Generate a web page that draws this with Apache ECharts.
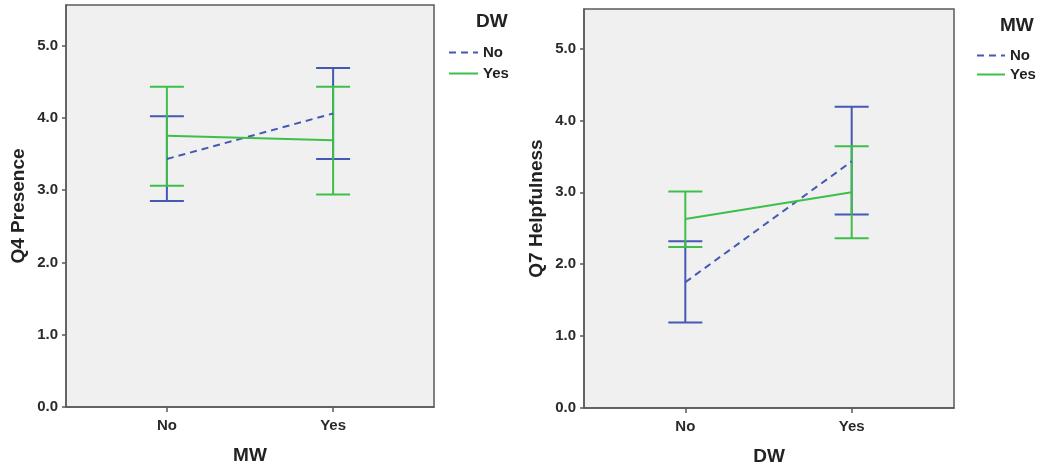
<!DOCTYPE html>
<html>
<head>
<meta charset="utf-8">
<script src="https://cdn.jsdelivr.net/npm/echarts@6/dist/echarts.min.js"></script>
<style>
html,body{margin:0;padding:0;background:#fff;}
#chart{width:1040px;height:467px;}
</style>
</head>
<body>
<div id="chart"></div>
<script>
// ---- data ----
var categories = ['No', 'Yes'];
var yTicks = [0, 1, 2, 3, 4, 5];

// Left panel: Q4 Presence by MW, lines = DW
var leftNoMean  = [3.43, 4.06];
var leftNoLow   = [2.85, 3.43];
var leftNoHigh  = [4.02, 4.69];
var leftYesMean = [3.75, 3.69];
var leftYesLow  = [3.06, 2.94];
var leftYesHigh = [4.43, 4.43];

// Right panel: Q7 Helpfulness by DW, lines = MW
var rightNoMean  = [1.75, 3.43];
var rightNoLow   = [1.19, 2.69];
var rightNoHigh  = [2.32, 4.19];
var rightYesMean = [2.63, 3.00];
var rightYesLow  = [2.24, 2.36];
var rightYesHigh = [3.01, 3.64];

var BLUE = '#4459b3';
var GREEN = '#3dbf4a';
var FONT = '"Liberation Sans", Arial, sans-serif';

function lineData(mean){ return mean.map(function(v,i){ return [i, v]; }); }
function barData(low, high){ return low.map(function(v,i){ return [i, v, high[i]]; }); }

function errorSeries(idx, low, high, color, z){
  return {
    type: 'custom', xAxisIndex: idx, yAxisIndex: idx, z: z, silent: true,
    data: barData(low, high),
    renderItem: function(params, api){
      var x = api.value(0);
      var lo = api.coord([x, api.value(1)]);
      var hi = api.coord([x, api.value(2)]);
      var w = 17;
      var st = {stroke: color, lineWidth: 2};
      return {type: 'group', children: [
        {type: 'line', shape: {x1: lo[0], y1: lo[1], x2: hi[0], y2: hi[1]}, style: st},
        {type: 'line', shape: {x1: lo[0]-w, y1: lo[1], x2: lo[0]+w, y2: lo[1]}, style: st},
        {type: 'line', shape: {x1: hi[0]-w, y1: hi[1], x2: hi[0]+w, y2: hi[1]}, style: st}
      ]};
    }
  };
}
function meanSeries(idx, name, mean, color, dashed, z){
  return {
    type: 'line', name: name, xAxisIndex: idx, yAxisIndex: idx, z: z,
    data: lineData(mean), symbol: 'none', silent: true, animation: false,
    lineStyle: {color: color, width: 2, type: dashed ? [7, 5] : 'solid'},
    itemStyle: {color: color}
  };
}

function xAxis(idx, min, max, title){
  return {
    type: 'value', gridIndex: idx, min: min, max: max,
    name: title, nameLocation: 'middle', nameGap: 39,
    nameTextStyle: {fontFamily: FONT, fontWeight: 'bold', fontSize: 19, color: '#222'},
    axisLine: {show: true, onZero: false, lineStyle: {color: '#5a5a5a', width: 1.5}},
    axisTick: {show: true, length: 5, customValues: [0, 1], lineStyle: {color: '#5a5a5a', width: 1.5}},
    axisLabel: {customValues: [0, 1], formatter: function(v){ return categories[Math.round(v)]; },
      fontFamily: FONT, fontWeight: 'bold', fontSize: 15, color: '#2a2a2a', margin: 11},
    splitLine: {show: false}
  };
}
function yAxis(idx, max, title){
  return {
    type: 'value', gridIndex: idx, min: 0, max: max,
    name: title, nameLocation: 'middle', nameGap: 38,
    nameTextStyle: {fontFamily: FONT, fontWeight: 'bold', fontSize: 19, color: '#222'},
    axisLine: {show: true, onZero: false, lineStyle: {color: '#5a5a5a', width: 1.5}},
    axisTick: {show: true, length: 4, customValues: yTicks, lineStyle: {color: '#5a5a5a', width: 1.5}},
    axisLabel: {customValues: yTicks, formatter: function(v){ return v.toFixed(1); },
      fontFamily: FONT, fontWeight: 'bold', fontSize: 15, color: '#2a2a2a', margin: 8},
    splitLine: {show: false}
  };
}

var legendText = {fontFamily: FONT, fontWeight: 'bold', fontSize: 15, color: '#222'};
var legendItem = {color: 'transparent', borderColor: 'transparent', borderWidth: 0};

var option = {
  animation: false,
  backgroundColor: '#ffffff',
  grid: [
    {left: 66, top: 5, width: 368, height: 402, show: true, outerBoundsMode: 'none', containLabel: false,
     backgroundColor: '#f0f0f0', borderColor: '#5a5a5a', borderWidth: 1.5},
    {left: 584, top: 9, width: 370, height: 399, show: true, outerBoundsMode: 'none', containLabel: false,
     backgroundColor: '#f0f0f0', borderColor: '#5a5a5a', borderWidth: 1.5}
  ],
  xAxis: [xAxis(0, -0.607, 1.607, 'MW'), xAxis(1, -0.609, 1.615, 'DW')],
  yAxis: [yAxis(0, 5.56, 'Q4 Presence'), yAxis(1, 5.55, 'Q7 Helpfulness')],
  legend: [
    {data: ['No', 'Yes'], left: 448, top: 45, orient: 'vertical', itemWidth: 29, itemHeight: 14, itemGap: 6,
     textStyle: legendText, selectedMode: false, padding: 0, itemStyle: legendItem},
    {data: ['No', 'Yes'], left: 976, top: 48, orient: 'vertical', itemWidth: 28, itemHeight: 14, itemGap: 4,
     textStyle: legendText, selectedMode: false, padding: 0, itemStyle: legendItem}
  ],
  graphic: [
    {type: 'text', left: 476, top: 12, style: {text: 'DW', fontFamily: FONT, fontWeight: 'bold', fontSize: 19, fill: '#222'}},
    {type: 'text', left: 1000, top: 16, style: {text: 'MW', fontFamily: FONT, fontWeight: 'bold', fontSize: 19, fill: '#222'}}
  ],
  series: [
    errorSeries(0, leftNoLow, leftNoHigh, BLUE, 2),
    errorSeries(0, leftYesLow, leftYesHigh, GREEN, 3),
    meanSeries(0, 'No', leftNoMean, BLUE, true, 4),
    meanSeries(0, 'Yes', leftYesMean, GREEN, false, 5),
    errorSeries(1, rightNoLow, rightNoHigh, BLUE, 2),
    errorSeries(1, rightYesLow, rightYesHigh, GREEN, 3),
    meanSeries(1, 'No', rightNoMean, BLUE, true, 4),
    meanSeries(1, 'Yes', rightYesMean, GREEN, false, 5)
  ]
};

var chart = echarts.init(document.getElementById('chart'), null, {renderer: 'canvas'});
chart.setOption(option);
</script>
</body>
</html>
